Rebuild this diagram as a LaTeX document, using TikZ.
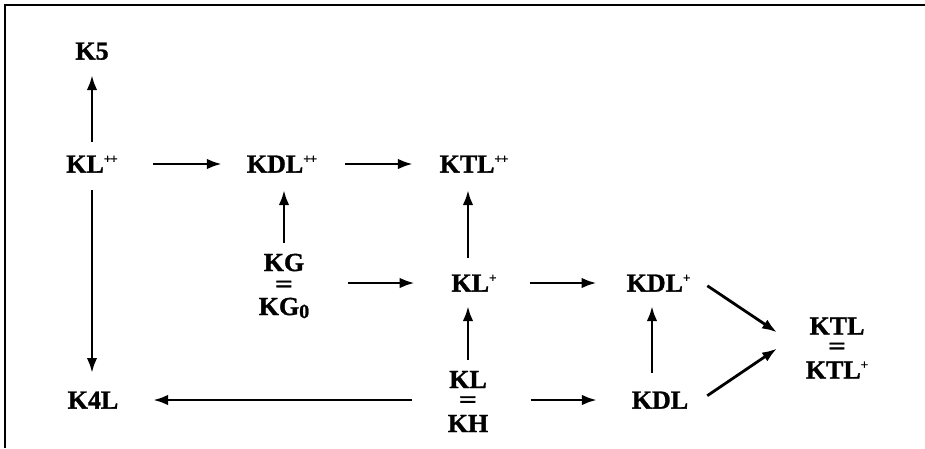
\documentclass[tikz,border=0pt]{standalone}
\usepackage{fontspec}
\setmainfont{Liberation Serif}
\newfontfamily\heavy{Liberation Serif Bold}[FakeBold=1.2]
\usetikzlibrary{arrows.meta}
\newcommand\suppp{\raisebox{9.5pt}{\fontsize{13}{13}\selectfont +\kern-1pt+}}
\newcommand\supone{\raisebox{9.5pt}{\fontsize{13}{13}\selectfont +}}
\newcommand\eqsign[1]{\raisebox{#1}{\scalebox{1.3}[1]{\fontsize{24}{22}\selectfont =}}}
\begin{document}
\begin{tikzpicture}[x=1pt,y=-1pt,
  lbl/.style={inner sep=0pt, outer sep=0pt, font=\heavy\fontsize{26}{22}\selectfont, text height=17.2pt, text depth=0pt},
  stk/.style={inner sep=0pt, outer sep=0pt, align=center, font=\heavy\fontsize{26}{22}\selectfont},
  arr/.style={line width=2.8pt, -{Latex[length=15pt,width=10.5pt]}},
  frame/.style={line width=2.2pt}]
\useasboundingbox (0,0) rectangle (925,448);
\draw[frame] (5,448) -- (5,5) -- (925,5);

\node[lbl] (k5) at (92,51) {K5};
\node[lbl] (klpp) at (92,164) {KL\suppp};
\node[lbl] (kdlpp) at (282,164) {KDL\suppp};
\node[lbl] (ktlpp) at (474,164) {KTL\suppp};
\node[stk] (kgs) at (284,286) {KG\\\eqsign{1pt}\\KG\raisebox{-3pt}{\fontsize{20}{20}\selectfont 0}};
\node[lbl] (klp) at (474,283) {KL\supone};
\node[lbl] (kdlp) at (658.5,283) {KDL\supone};
\node[stk] (ktls) at (837,348) {KTL\\\eqsign{2.5pt}\\KTL\supone};
\node[lbl] (k4l) at (93,400) {K4L};
\node[stk] (klh) at (468,401.5) {KL\\\eqsign{2.5pt}\\KH};
\node[lbl] (kdl) at (660,400) {KDL};

\draw[arr, shorten <=13.4pt, shorten >=15.4pt] (klpp.north) -- (k5.south);
\draw[arr, shorten <=17.4pt, shorten >=18.4pt] (klpp.south) -- (klpp.south |- k4l.north);
\draw[arr, shorten <=35.4pt, shorten >=25pt] (klpp.east) -- (kdlpp.west);
\draw[arr, shorten <=28pt, shorten >=26.7pt] (kdlpp.east) -- (ktlpp.west);
\draw[arr, shorten <=11pt, shorten >=17.4pt] (kgs.north) -- (kgs.north |- kdlpp.south);
\draw[arr, shorten <=39.2pt, shorten >=36.8pt] (kgs.east |- klp.west) -- (klp.west);
\draw[arr, shorten <=16.4pt, shorten >=17.4pt] (klh.north |- klp.north) -- (klh.north |- ktlpp.south);
\draw[arr, shorten <=33.8pt, shorten >=30pt] (klp.east) -- (kdlp.west);
\draw[arr, shorten <=11.4pt, shorten >=14.4pt] (klh.north) -- (klh.north |- klp.south);
\draw[arr, shorten <=35.5pt, shorten >=34.75pt] (klh.west |- k4l.east) -- (k4l.east);
\draw[arr, shorten <=42.5pt, shorten >=34.85pt] (klh.east |- kdl.west) -- (kdl.west);
\draw[arr, shorten <=18.4pt, shorten >=14.4pt] ([xshift=-8pt]kdl.north) -- ([xshift=-8pt]kdl.north |- kdlp.south);
\draw[arr, shorten <=20.4pt, shorten >=14.4pt] (kdlp.north east) -- ([shift={(-48pt,7.6pt)}]ktls.center);
\draw[arr, shorten <=23pt, shorten >=14.5pt] (kdl.south east) -- ([shift={(-48pt,7.6pt)}]ktls.center);
\end{tikzpicture}
\end{document}
